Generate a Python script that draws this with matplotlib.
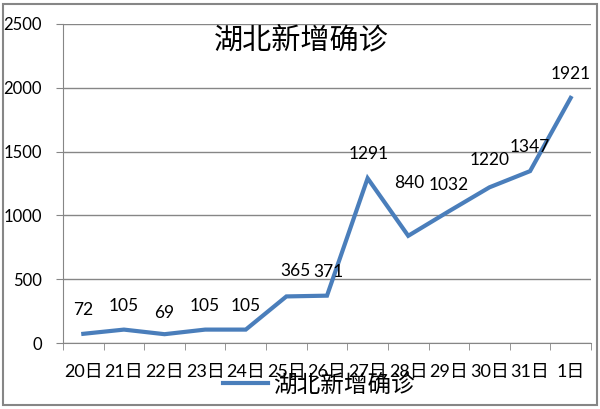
import matplotlib
matplotlib.use('Agg')
import matplotlib.pyplot as plt
from matplotlib.patches import Rectangle

plt.rcParams['font.family'] = ['Lato', 'Noto Sans CJK SC', 'DejaVu Sans']

days = ['20日', '21日', '22日', '23日', '24日', '25日', '26日',
        '27日', '28日', '29日', '30日', '31日', '1日']
cases = [72, 105, 69, 105, 105, 365, 371, 1291, 840, 1032, 1220, 1347, 1921]
series_name = '湖北新增确诊'

BLU = '#4a7ebb'
GRD = '#868686'

# label nudges in pixels (dx, dy)
nudge = [(0, 24), (0, 24), (0, 21), (0, 24), (0, 24), (9, 25), (1, 24),
         (1, 24), (1, 53), (0, 26), (0, 27), (0, 24), (0, 24)]

fig = plt.figure(figsize=(6, 4.09), dpi=100)
ax = fig.add_axes([63/600, 1-343/409, 528/600, 319/409])

x = list(range(len(days)))
ax.plot(x, cases, c=BLU, lw=3.0, solid_joinstyle='miter', label=series_name)

for i, v in enumerate(cases):
    dx, dy = nudge[i]
    ax.annotate(str(v), (i, v), xytext=(dx*0.72, dy*0.72), textcoords='offset points',
                ha='center', va='center', fontsize=12.5)

ax.set_xlim(-0.5, len(days)-0.5)
ax.set_ylim(0, 2500)
ax.set_yticks(range(0, 2501, 500))
ax.set_xticks(x)
ax.set_xticklabels(days, fontsize=13)
ax.set_xticks([i-0.5 for i in range(len(days)+1)], minor=True)
ax.tick_params(axis='x', which='major', length=0, pad=15)
ax.tick_params(axis='x', which='minor', length=5, color=GRD, direction='out')
ax.tick_params(axis='y', length=5, color=GRD, labelsize=12, pad=10)
ax.grid(axis='y', color=GRD, lw=1)
ax.set_axisbelow(True)
for s in ['top', 'right']:
    ax.spines[s].set_visible(False)
ax.spines['left'].set_color(GRD)
ax.spines['bottom'].set_color(GRD)

ax.text(301/600, 1-40/409, series_name, transform=fig.transFigure, ha='center', va='center',
        fontsize=21, family=['Noto Sans CJK SC'])

leg = ax.legend(loc='center', bbox_to_anchor=(319/600, 1-385/409), bbox_transform=fig.transFigure,
                frameon=False, handlelength=1.9, handletextpad=0.25,
                prop={'family': 'Noto Sans CJK SC', 'size': 17})

fig.patches.append(Rectangle((3/600, 4/409), 594/600, 401/409, transform=fig.transFigure,
                             fill=False, ec=GRD, lw=1.5))

plt.savefig('out.png', dpi=100)
